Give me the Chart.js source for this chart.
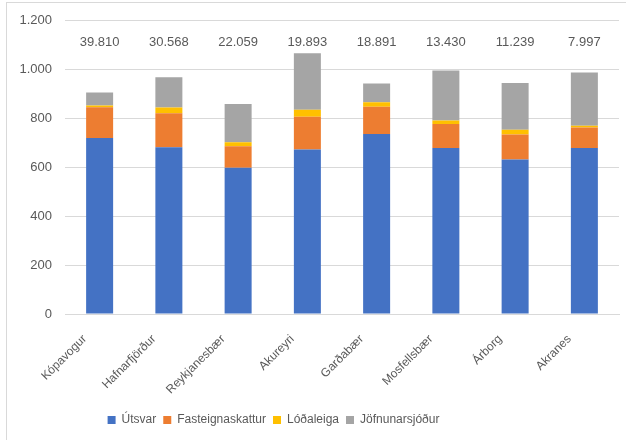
<!DOCTYPE html>
<html>
<head>
<meta charset="utf-8">
<script src="https://cdn.jsdelivr.net/npm/chart.js@4"></script>
<style>
  html, body { margin: 0; padding: 0; background: #fff; }
  #wrap { position: relative; width: 628px; height: 440px; }
  #frame { position: absolute; left: 6px; top: 2px; width: 620px; height: 450px;
           border-left: 1px solid #d9d9d9; border-top: 1px solid #d9d9d9; box-sizing: border-box; }
  canvas { position: absolute; left: 0; top: 0; }
</style>
</head>
<body>
<div id="wrap">
  <div id="frame"></div>
  <canvas id="chart" width="628" height="440"></canvas>
</div>
<script>
// ============================
// Data
// ============================
const towns = ['Kópavogur', 'Hafnarfjörður', 'Reykjanesbær', 'Akureyri', 'Garðabær', 'Mosfellsbær', 'Árborg', 'Akranes'];
const population = ['39.810', '30.568', '22.059', '19.893', '18.891', '13.430', '11.239', '7.997'];

const utsvar       = [721, 683, 599, 673, 737, 680, 633, 680];
const fasteign     = [125, 139,  88, 134, 111,  98, 102,  83];
const lodaleiga    = [  7,  23,  16,  29,  19,  14,  19,   8];
const jofnunarsjod = [ 54, 124, 157, 231,  76, 205, 192, 217];

const yTicks = [0, 200, 400, 600, 800, 1000, 1200];

const textColor = '#595959';
const fontFamily = '"Liberation Sans", Arial, sans-serif';

// ============================
// Plugins
// ============================

// population numbers written above each bar
const topLabels = {
    id: 'topLabels',
    afterDatasetsDraw(chart) {
        const ctx = chart.ctx;
        const x = chart.scales.x, y = chart.scales.y;
        ctx.save();
        ctx.font = '13px ' + fontFamily;
        ctx.fillStyle = textColor;
        ctx.textAlign = 'center';
        ctx.textBaseline = 'middle';
        population.forEach((p, i) => {
            ctx.fillText(p, x.getPixelForValue(i), y.getPixelForValue(1110));
        });
        ctx.restore();
    }
};

// legend sits a bit left of centre in the original
const shiftLegend = {
    id: 'shiftLegend',
    afterLayout(chart) {
        chart.legend.left -= 36;
        chart.legend.right -= 36;
    }
};

// ============================
// Chart
// ============================
function makeSet(label, data, color) {
    return { label: label, data: data, backgroundColor: color, borderWidth: 0,
             barPercentage: 0.39, categoryPercentage: 1 };
}

new Chart(document.getElementById('chart').getContext('2d'), {
    type: 'bar',
    data: {
        labels: towns,
        datasets: [
            makeSet('Útsvar', utsvar, '#4472C4'),
            makeSet('Fasteignaskattur', fasteign, '#ED7D31'),
            makeSet('Lóðaleiga', lodaleiga, '#FFC000'),
            makeSet('Jöfnunarsjóður', jofnunarsjod, '#A5A5A5')
        ]
    },
    options: {
        responsive: false,
        animation: false,
        layout: { padding: { top: 13, right: 9, left: 0, bottom: 4 } },
        plugins: {
            legend: {
                position: 'bottom',
                labels: {
                    boxWidth: 8, boxHeight: 8, padding: 7,
                    color: textColor, font: { size: 12, family: fontFamily }
                }
            },
            tooltip: { enabled: false }
        },
        scales: {
            x: {
                stacked: true,
                grid: { display: false },
                border: { color: '#d9d9d9' },
                ticks: {
                    color: textColor, font: { size: 12, family: fontFamily },
                    minRotation: 45, maxRotation: 45, padding: 10, labelOffset: -15
                }
            },
            y: {
                stacked: true,
                min: 0, max: 1200,
                afterBuildTicks(scale) { scale.ticks = yTicks.map(v => ({ value: v })); },
                afterFit(scale) { scale.width = 65; },
                grid: { color: '#d9d9d9', drawTicks: false },
                border: { display: false },
                ticks: {
                    color: textColor, font: { size: 13, family: fontFamily }, padding: 13,
                    callback: v => v.toLocaleString('de-DE')
                }
            }
        }
    },
    plugins: [topLabels, shiftLegend]
});
</script>
</body>
</html>
